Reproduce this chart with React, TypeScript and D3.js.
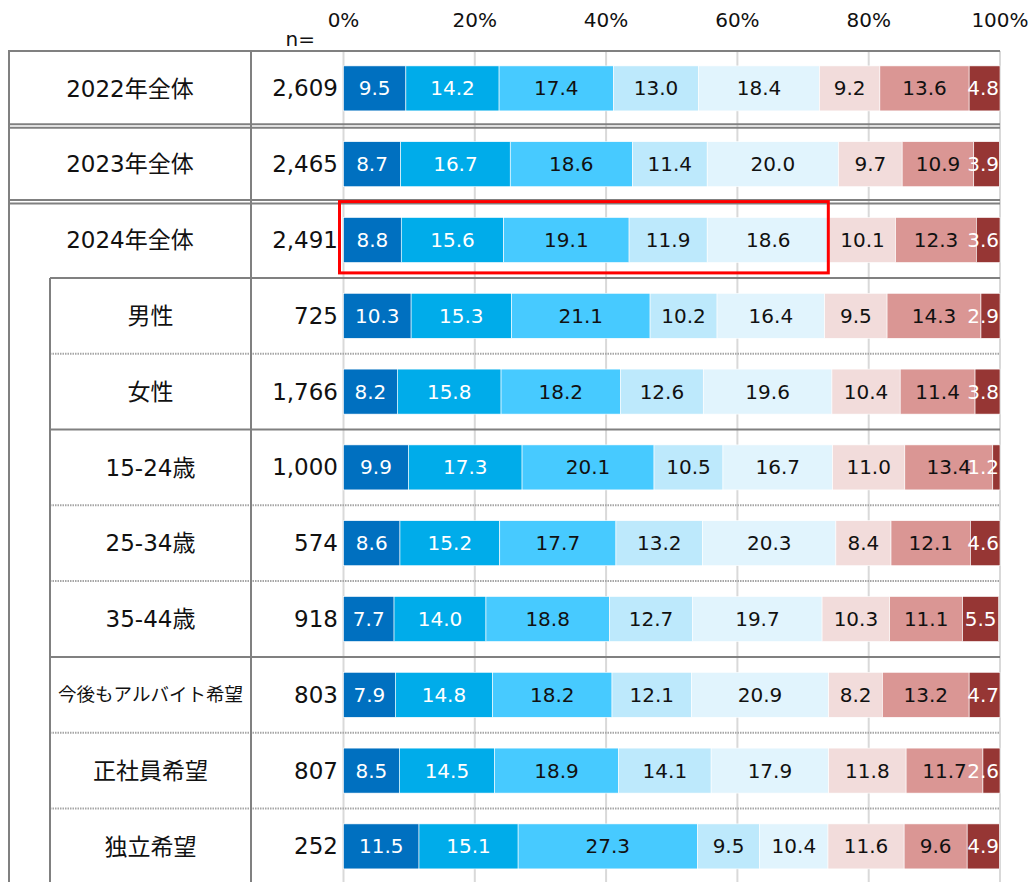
import React from 'react';
import * as d3 from 'd3';

// rows of the table / chart
const categories = ['2022年全体', '2023年全体', '2024年全体', '男性', '女性', '15-24歳', '25-34歳', '35-44歳', '今後もアルバイト希望', '正社員希望', '独立希望'];
const sampleSizes = ['2,609', '2,465', '2,491', '725', '1,766', '1,000', '574', '918', '803', '807', '252'];

// stacked shares (%), left to right
const seg1 = [9.5, 8.7, 8.8, 10.3, 8.2, 9.9, 8.6, 7.7, 7.9, 8.5, 11.5];
const seg2 = [14.2, 16.7, 15.6, 15.3, 15.8, 17.3, 15.2, 14.0, 14.8, 14.5, 15.1];
const seg3 = [17.4, 18.6, 19.1, 21.1, 18.2, 20.1, 17.7, 18.8, 18.2, 18.9, 27.3];
const seg4 = [13.0, 11.4, 11.9, 10.2, 12.6, 10.5, 13.2, 12.7, 12.1, 14.1, 9.5];
const seg5 = [18.4, 20.0, 18.6, 16.4, 19.6, 16.7, 20.3, 19.7, 20.9, 17.9, 10.4];
const seg6 = [9.2, 9.7, 10.1, 9.5, 10.4, 11.0, 8.4, 10.3, 8.2, 11.8, 11.6];
const seg7 = [13.6, 10.9, 12.3, 14.3, 11.4, 13.4, 12.1, 11.1, 13.2, 11.7, 9.6];
const seg8 = [4.8, 3.9, 3.6, 2.9, 3.8, 1.2, 4.6, 5.5, 4.7, 2.6, 4.9];

const tickValues = [0, 20, 40, 60, 80, 100];

const segColors = ['#0070C0', '#00ACEA', '#47CAFF', '#BDE9FC', '#E1F4FD', '#F2DCDB', '#DA9694', '#963634'];
const segText = ['#fff', '#fff', '#111', '#111', '#111', '#111', '#111', '#fff'];

// line under each row: d = double, s = solid, o = dotted
const separators = ['d', 'd', 's', 'o', 's', 'o', 'o', 's', 'o', 'o'];

const FONT = "'DejaVu Sans', 'Noto Sans CJK JP', sans-serif";
const W = 1031;
const H = 882;
const lineColor = '#808080';

function textWidth(s: string, fs: number) {
  let w = 0;
  for (const ch of s) w += ch === '.' || ch === ',' ? 0.318 : 0.636;
  return w * fs;
}

export default function App() {
  const x = d3.scaleLinear().domain([0, 100]).range([343.5, 1000]).clamp(true);
  const step = 75.8;
  const y = d3.scaleBand<string>().domain(categories).range([50.5, 50.5 + categories.length * step]);
  const barH = 45;

  const keys = ['s1', 's2', 's3', 's4', 's5', 's6', 's7', 's8'];
  const allSegs = [seg1, seg2, seg3, seg4, seg5, seg6, seg7, seg8];
  const table = categories.map((c, i) => {
    const row: any = { cat: c };
    keys.forEach((k, j) => (row[k] = allSegs[j][i]));
    return row;
  });
  const stacked = d3.stack<any>().keys(keys)(table);

  const left = 9;
  const indent = 50;
  const colSep = 251;
  const nRight = 338;
  const boxRow = 2;
  const boxCum = stacked[4][boxRow][1];

  return (
    <svg width={W} height={H} style={{ position: 'absolute', left: 0, top: 0, background: '#fff' }} fontFamily={FONT}>
      {/* gridlines */}
      {tickValues.map(t => (
        <line key={'g' + t} x1={x(t)} x2={x(t)} y1={51} y2={H} stroke="#D9D9D9" strokeWidth={2} />
      ))}
      {tickValues.map(t => (
        <text key={'t' + t} x={x(t)} y={27} textAnchor="middle" fontSize={20} fill="#111">{t}%</text>
      ))}
      <text x={315} y={46} textAnchor="end" fontSize={20} fill="#111">n=</text>

      {/* bars */}
      {stacked.map((s, j) =>
        s.map((d, i) => (
          <rect key={`b${j}-${i}`} x={x(d[0])} y={(y(categories[i]) as number) + (step - barH) / 2}
            width={Math.max(0, x(d[1]) - x(d[0]))} height={barH} fill={segColors[j]} stroke="#fff" strokeWidth={0.6} />
        ))
      )}
      {stacked.map((s, j) =>
        s.map((d, i) => {
          const label = allSegs[j][i].toFixed(1);
          const w = textWidth(label, 20);
          let cx = (x(d[0]) + x(Math.min(d[1], 100))) / 2;
          if (cx + w / 2 > 999) cx = 999 - w / 2;
          return (
            <text key={`l${j}-${i}`} x={cx} y={(y(categories[i]) as number) + step / 2 + 7}
              textAnchor="middle" fontSize={20} fill={segText[j]}>{label}</text>
          );
        })
      )}

      {/* table lines */}
      <line x1={left} x2={1000} y1={51} y2={51} stroke={lineColor} strokeWidth={2} />
      {separators.map((t, i) => {
        const yy = (y(categories[i]) as number) + step;
        const x0 = i >= 2 ? indent : left;
        if (t === 'd')
          return (
            <g key={'s' + i}>
              <line x1={x0} x2={1000} y1={yy - 2} y2={yy - 2} stroke={lineColor} strokeWidth={2} />
              <line x1={x0} x2={1000} y1={yy + 1.5} y2={yy + 1.5} stroke={lineColor} strokeWidth={2} />
            </g>
          );
        if (t === 's') return <line key={'s' + i} x1={x0} x2={1000} y1={yy} y2={yy} stroke={lineColor} strokeWidth={2} />;
        return <line key={'s' + i} x1={x0} x2={1000} y1={yy} y2={yy} stroke="#A6A6A6" strokeWidth={2} strokeDasharray="1.5,1" />;
      })}
      <line x1={left} x2={left} y1={50} y2={H} stroke={lineColor} strokeWidth={2} />
      <line x1={colSep} x2={colSep} y1={50} y2={H} stroke={lineColor} strokeWidth={2} />
      <line x1={indent} x2={indent} y1={(y(categories[3]) as number)} y2={H} stroke={lineColor} strokeWidth={2} />

      {/* row labels and n */}
      {categories.map((c, i) => {
        const cy = (y(c) as number) + step / 2;
        const cx = i >= 3 ? (indent + colSep) / 2 : (left + colSep) / 2;
        const fs = c.length > 8 ? 18.5 : 23;
        return (
          <g key={'r' + i}>
            <text x={cx} y={cy + fs * 0.36} textAnchor="middle" fontSize={fs} fill="#111">{c}</text>
            <text x={nRight} y={cy + 8} textAnchor="end" fontSize={23} fill="#111">{sampleSizes[i]}</text>
          </g>
        );
      })}

      {/* highlight box */}
      <rect x={x(0) - 4} y={(y(categories[boxRow]) as number) - 0.5} width={x(boxCum) - 1 - (x(0) - 4)}
        height={step - 4.5} fill="none" stroke="#FF0000" strokeWidth={3} />
    </svg>
  );
}
